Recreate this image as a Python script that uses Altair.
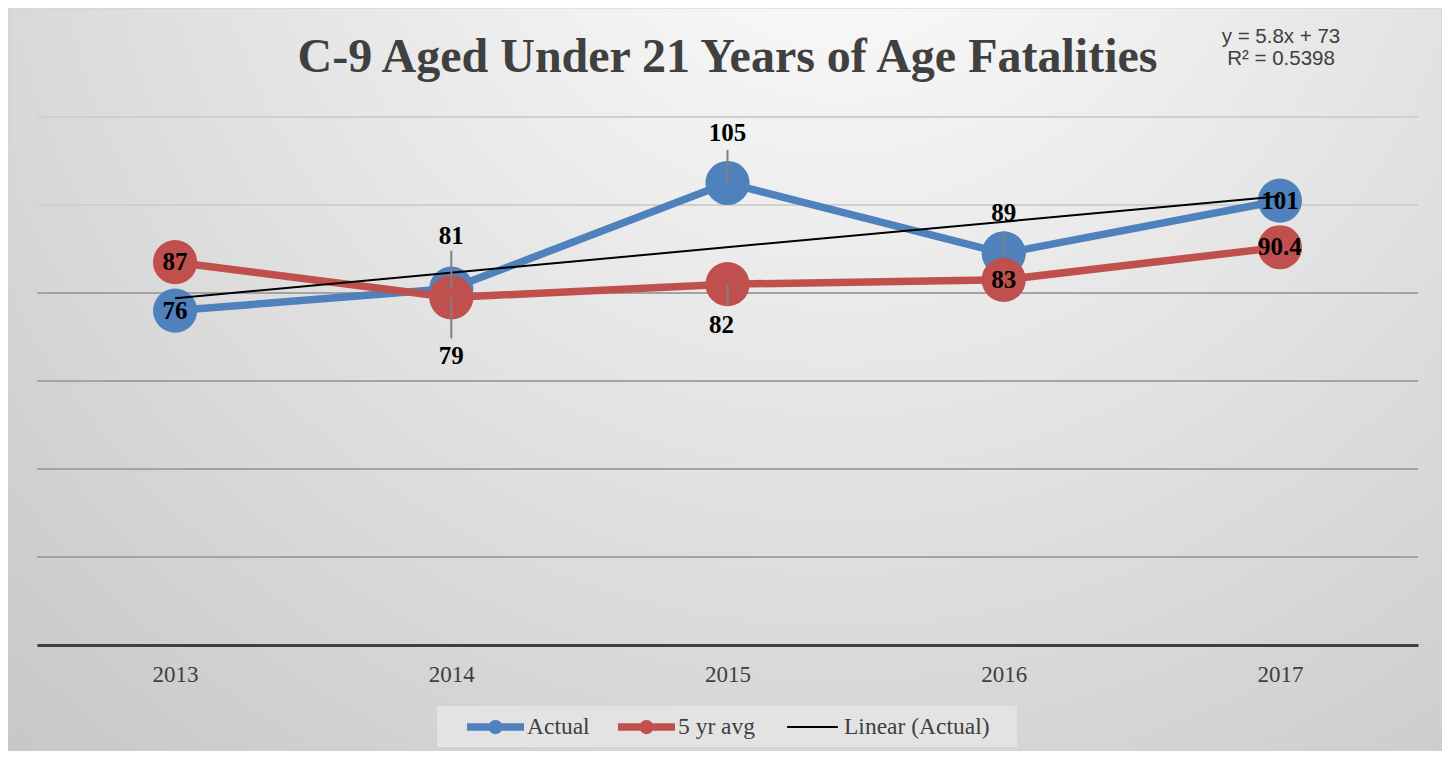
import altair as alt
import pandas as pd

# ---------------- data ----------------
YEARS = [2013, 2014, 2015, 2016, 2017]
ACTUAL = [76, 81, 105, 89, 101]
AVG5 = [87, 79, 82, 83, 90.4]
SERIES = ["Actual", "5 yr avg", "Linear (Actual)"]
Y_GRID = [0, 20, 40, 60, 80, 100, 120]
TITLE = "C-9 Aged Under 21 Years of Age Fatalities"
EQUATION = ["y = 5.8x + 73", "R\u00b2 = 0.5398"]

# ---------------- style ----------------
W, H = 1381, 528
Y_MAX = 120
BLUE, RED, TEXT = "#4F81BD", "#C0504D", "#404040"
SERIF = "Liberation Serif"
SANS = "Liberation Sans"
PX_PER_UNIT = H / Y_MAX
MARKER = 1950
LINE_W = 7.5

# label placement (pixel offsets from the marker centre)
LABEL_DY = {("Actual", 2014): -53, ("Actual", 2015): -50, ("Actual", 2016): -40,
            ("5 yr avg", 2014): 59, ("5 yr avg", 2015): 41}
LABEL_DX = {("5 yr avg", 2015): -6}
# leader lines (pixel length, negative = upward)
LEADER_PX = {("Actual", 2014): -38, ("Actual", 2015): -33, ("Actual", 2016): -22,
             ("5 yr avg", 2014): 41, ("5 yr avg", 2015): 22}


def fmt(v):
    return str(int(v)) if float(v).is_integer() else str(v)


actual_df = pd.DataFrame({"year": YEARS, "value": ACTUAL,
                          "label": [fmt(v) for v in ACTUAL], "series": "Actual"})
avg_df = pd.DataFrame({"year": YEARS, "value": AVG5,
                       "label": [fmt(v) for v in AVG5], "series": "5 yr avg"})

X = alt.X("year:O", scale=alt.Scale(type="point", padding=0.5),
          axis=alt.Axis(title=None, ticks=False, grid=False, domainColor=TEXT,
                        domainWidth=3, labelFont=SERIF, labelFontSize=23,
                        labelColor=TEXT, labelPadding=18, labelAngle=0, zindex=1))
YSCALE = alt.Scale(domain=[0, Y_MAX], nice=False, zero=True)
Y = alt.Y("value:Q", scale=YSCALE, axis=None)

one = pd.DataFrame({"d": [0]})

# background frame with radial gradient
background = alt.Chart(one).mark_rect(
    fill={"gradient": "radial", "x1": 0.58, "y1": 0.12, "r1": 0,
          "x2": 0.58, "y2": 0.12, "r2": 1.05,
          "stops": [{"offset": 0, "color": "#ffffff"},
                    {"offset": 1, "color": "#bbbbbb"}]},
    stroke="#d0d0d0", strokeWidth=1
).encode(x=alt.value(-29), x2=alt.value(W + 24), y=alt.value(-109), y2=alt.value(H + 106))

# gridlines
grid_df = pd.DataFrame({"value": Y_GRID})
grid = alt.Chart(grid_df).mark_rule(strokeWidth=2).encode(
    y=alt.Y("value:Q", scale=YSCALE, axis=None),
    color=alt.condition("datum.value >= 90", alt.value("#cfcfcf"), alt.value("#a3a3a3")),
)

# legend box
legend_box = alt.Chart(one).mark_rect(fill="#e3e3e3").encode(
    x=alt.value(400), x2=alt.value(980), y=alt.value(589), y2=alt.value(630))

blue_line = alt.Chart(actual_df).mark_line(color=BLUE, strokeWidth=LINE_W, strokeCap="round").encode(x=X, y=Y)
blue_pts = alt.Chart(actual_df).mark_circle(color=BLUE, size=MARKER, opacity=1).encode(x=X, y=Y)
red_line = alt.Chart(avg_df).mark_line(color=RED, strokeWidth=LINE_W, strokeCap="round").encode(x=X, y=Y)
red_pts = alt.Chart(avg_df).mark_circle(color=RED, size=MARKER, opacity=1).encode(x=X, y=Y)

trend = alt.Chart(actual_df).transform_regression("year", "value", method="linear").mark_line(
    color="black", strokeWidth=2).encode(x=X, y=Y)

# leader lines
rows = []
for df in (actual_df, avg_df):
    for _, r in df.iterrows():
        key = (r["series"], int(r["year"]))
        if key in LEADER_PX:
            rows.append({"year": int(r["year"]), "value": r["value"],
                         "end": r["value"] - LEADER_PX[key] / PX_PER_UNIT})
leader_df = pd.DataFrame(rows)
leaders = alt.Chart(leader_df).mark_rule(color="#808080", strokeWidth=2).encode(
    x=X, y=Y, y2="end:Q")

# data labels
label_layers = []
for df in (actual_df, avg_df):
    for _, r in df.iterrows():
        key = (r["series"], int(r["year"]))
        label_layers.append(
            alt.Chart(df).transform_filter(alt.datum.year == int(r["year"])).mark_text(
                font=SERIF, fontSize=25, fontWeight="bold", color="black",
                baseline="middle", align="center",
                dy=LABEL_DY.get(key, 0), dx=LABEL_DX.get(key, 0)
            ).encode(x=X, y=Y, text="label:N")
        )

# title & equation
title = alt.Chart(one).mark_text(
    text=TITLE, font=SERIF, fontSize=48, fontWeight="bold", color=TEXT,
    align="center", baseline="alphabetic"
).encode(x=alt.value(W / 2), y=alt.value(-45))

eq1 = alt.Chart(one).mark_text(text=EQUATION[0], font=SANS, fontSize=20.5, color=TEXT,
                               align="center", baseline="alphabetic").encode(
    x=alt.value(1244), y=alt.value(-74))
eq2 = alt.Chart(one).mark_text(text=EQUATION[1], font=SANS, fontSize=20.5, color=TEXT,
                               align="center", baseline="alphabetic").encode(
    x=alt.value(1244), y=alt.value(-52))

# legend (symbols drawn by the Vega legend)
DOT_PATH = ("M-1,-0.13H1V0.13H-1Z "
            "M0.25,0A0.25,0.25 0 1,1 -0.25,0A0.25,0.25 0 1,1 0.25,0Z")
LINE_PATH = "M-0.89,-0.035H0.89V0.035H-0.89Z"
legend_df = pd.DataFrame({"series": SERIES})
LEG = dict(orient="none", legendX=430, legendY=581.5, direction="horizontal", title=None,
           symbolSize=3249, symbolOpacity=1, symbolStrokeWidth=0, labelFont=SERIF,
           labelFontSize=23.5, labelColor=TEXT, labelOffset=3, columnPadding=28,
           labelLimit=0, padding=0)
legend_layer = alt.Chart(legend_df).mark_point(filled=True, opacity=0).encode(
    x=alt.value(0), y=alt.value(0),
    color=alt.Color("series:N",
                    scale=alt.Scale(domain=SERIES, range=[BLUE, RED, "black"]),
                    legend=alt.Legend(**LEG)),
    shape=alt.Shape("series:N",
                    scale=alt.Scale(domain=SERIES, range=[DOT_PATH, DOT_PATH, LINE_PATH]),
                    legend=alt.Legend(**LEG)),
)

chart = alt.layer(
    background, grid, legend_box,
    blue_line, blue_pts, red_line, red_pts, trend, leaders,
    *label_layers, title, eq1, eq2, legend_layer
).properties(
    width=W, height=H,
    autosize=alt.AutoSizeParams(type="none"),
    padding={"left": 29, "top": 109, "right": 24, "bottom": 106},
).configure_view(stroke=None).configure(background="white")

chart.save("out.html", embed_options={"renderer": "svg", "actions": False})
